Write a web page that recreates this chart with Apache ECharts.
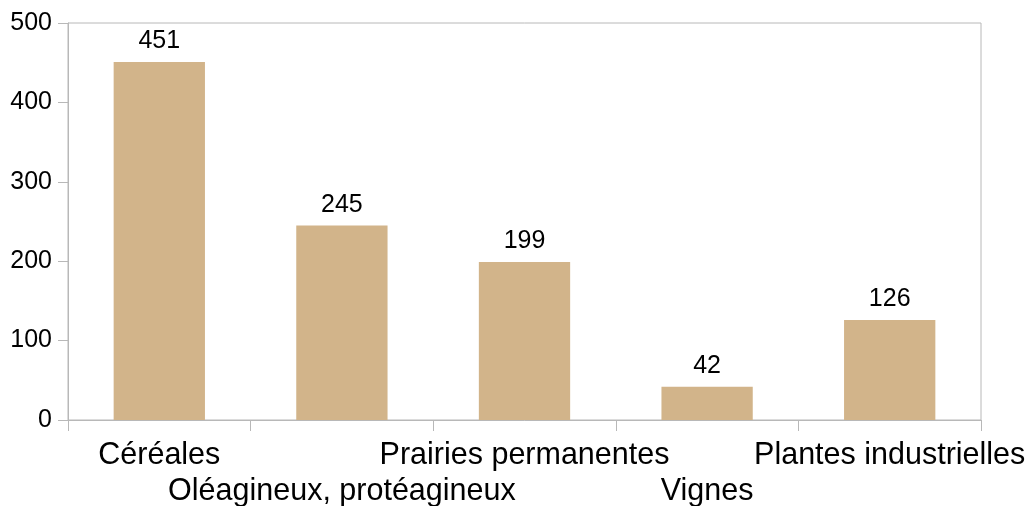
<!DOCTYPE html>
<html>
<head>
<meta charset="utf-8">
<script src="https://cdn.jsdelivr.net/npm/echarts@6/dist/echarts.min.js"></script>
<style>
  html, body { margin: 0; padding: 0; background: #fff; }
  #chart { width: 1030px; height: 506px; }
</style>
</head>
<body>
<div id="chart"></div>
<script>
// Surfaces par type de culture
const categories = ['Céréales', 'Oléagineux, protéagineux', 'Prairies permanentes', 'Vignes', 'Plantes industrielles'];
const values = [451, 245, 199, 42, 126];
const yTicks = [0, 100, 200, 300, 400, 500];

const axisGray = '#b8b8b8';
const font = '"Liberation Sans", Arial, sans-serif';

const chart = echarts.init(document.getElementById('chart'), null, { renderer: 'canvas' });
chart.setOption({
  animation: false,
  backgroundColor: '#ffffff',
  grid: {
    left: 68, right: 49, top: 23, bottom: 86,
    outerBoundsMode: 'none',
    containLabel: false,
    show: true, borderColor: axisGray, borderWidth: 1, backgroundColor: 'transparent'
  },
  xAxis: {
    type: 'category',
    data: categories,
    axisLine: { lineStyle: { color: axisGray, width: 1 } },
    axisTick: { show: true, alignWithLabel: false, length: 11, lineStyle: { color: axisGray } },
    axisLabel: {
      interval: 0,
      color: '#000',
      fontFamily: font,
      fontSize: 30.5,
      lineHeight: 36,
      margin: 18,
      hideOverlap: false,
      formatter: (v, i) => (i % 2 ? '\n' + v : v)
    },
    splitLine: { show: false }
  },
  yAxis: {
    type: 'value',
    min: yTicks[0],
    max: yTicks[yTicks.length - 1],
    interval: 100,
    axisLine: { show: true, lineStyle: { color: axisGray, width: 1 } },
    axisTick: { show: true, length: 10, lineStyle: { color: axisGray } },
    axisLabel: { color: '#000', fontFamily: font, fontSize: 25, margin: 16 },
    splitLine: { show: false }
  },
  series: [{
    type: 'bar',
    data: values,
    barWidth: '50%',
    itemStyle: { color: '#d2b48a' },
    label: {
      show: true,
      position: 'top',
      distance: 8,
      color: '#000',
      fontFamily: font,
      fontSize: 25
    }
  }]
});
</script>
</body>
</html>
